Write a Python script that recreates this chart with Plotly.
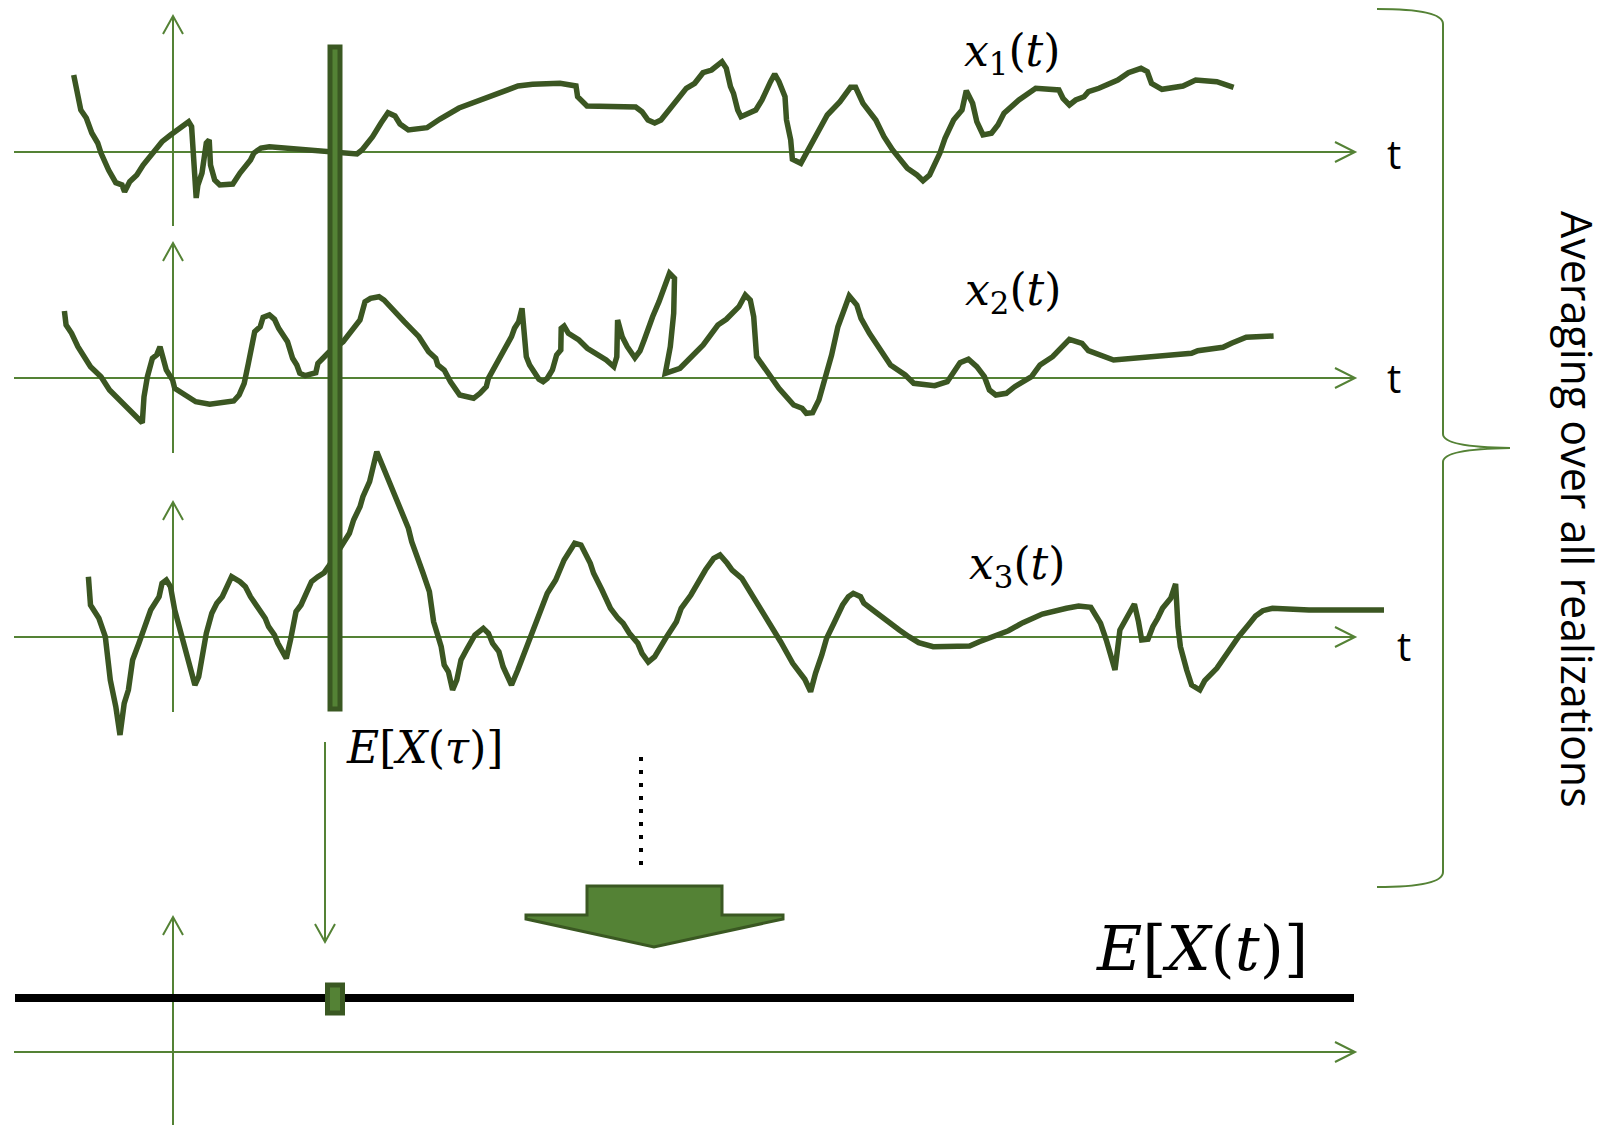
import plotly.graph_objects as go

W, H = 1612, 1125

# ---------------- data: three realizations (t in px-time units, amplitude above zero level) ----------------
t1 = [73.7, 77.9, 80.8, 86.3, 91.8, 97.7, 101, 108.6, 115.8, 122, 124.6, 129.7, 136.8, 143.1, 153.7, 162, 170.5,
      188.6, 191.6, 193.7, 196.2, 197.9, 202, 206.3, 209.2, 210.5, 214.7, 219.8, 232.8, 240, 250.5, 253.9, 261,
      269.4, 328, 357, 362, 372.6, 381, 388, 395, 400, 408.4, 427, 440, 459, 518, 532.6, 560, 576, 577.6, 587,
      635.7, 642, 648, 654.7, 661, 677.9, 686.3, 694.7, 703, 711.6, 722, 726.3, 730.5, 733.5, 737.7, 741, 755.8,
      762, 766.3, 770.5, 774.7, 779, 785, 786.5, 790.7, 792.4, 800.8, 808.4, 816, 821, 827.3, 840, 850.5, 855.6,
      863, 875.8, 884, 892.6, 901, 907.3, 917, 923, 929.6, 939.8, 945, 953.6, 962, 966.3, 972.6, 976.8, 983,
      991.5, 997.9, 1004, 1018.9, 1035.7, 1058.9, 1063, 1069.4, 1075.7, 1084, 1088.4, 1098.9, 1117.8, 1128.4,
      1141, 1147.3, 1151.5, 1162, 1183, 1195.7, 1216.8, 1233.6]
x1 = [77, 55.3, 42, 34, 19, 9, -1, -18, -30.7, -33, -39.7, -29.7, -23, -13, -1, 10.3, 17,
      30.3, 25.3, -21, -46, -33, -21, 9, 12, -13, -28, -33, -32, -21, -8, -1, 4,
      5.3, 0.3, -2, 2, 15.3, 29, 39.3, 36, 28, 22, 24.3, 33, 44, 66, 67.7, 68.7, 66, 55.3, 46,
      45, 40.3, 32, 29, 32, 52, 63.7, 68.7, 79.3, 82, 90.3, 83.7, 65.3, 58.7, 42, 35.3, 42,
      52, 62, 70.3, 78, 70.3, 55.3, 32, 12, -7.3, -11.3, 2, 15.3, 25.3, 37, 50.3, 64.7, 64.7,
      48.7, 32, 15.3, 2, -9.7, -16.3, -23, -28.7, -23, -1.3, 13.7, 32, 42, 61.3, 48.7, 30.3, 17,
      18.7, 27, 38.7, 52, 63.7, 62, 53.7, 47, 52, 55.3, 60.3, 63.7, 72, 79.3,
      83.7, 80.3, 68.7, 62.7, 66, 72, 70.3, 64.7]

t2 = [64.4, 66.1, 71.6, 77.9, 90.5, 101, 109.5, 134.7, 142.3, 144, 147.4, 152.4, 156.6, 160, 166.3, 172.6, 174.7,
      185.2, 195.8, 209.7, 233.7, 239.1, 244.2, 248.4, 254.7, 260.2, 263.1, 269.4, 274.5, 278.7, 287.5, 292.6,
      296.8, 299.8, 305.2, 315.8, 317.9, 328.4, 343.1, 360, 365, 370.5, 379, 384, 389.4, 397.8, 404.2, 418.9,
      428.6, 435.7, 437.8, 444.2, 450.5, 459.7, 473.6, 480, 486.3, 488.4, 496.8, 505.2, 511.5, 514.5, 518.7, 522,
      524.2, 526.3, 529.6, 536.8, 538.9, 543.1, 547.3, 552.4, 556.6, 560.8, 561.2, 564.1, 568.4, 578.9, 587.3,
      606.2, 613.8, 616.8, 617.6, 622.2, 627.3, 634.9, 640, 644.2, 648.4, 652.6, 659, 663.2, 669.5, 674.5, 673.7,
      670.3, 665.3, 680, 686.3, 703.2, 717.9, 726.3, 738.9, 745.3, 750.3, 753.7, 756.6, 762.1, 768.4, 778.9,
      793.7, 802.1, 806.3, 812.6, 818.9, 825.2, 831.6, 837.9, 849.2, 856.8, 861, 869.4, 882, 890.5, 905.2, 913.7,
      934.7, 947.3, 960, 968.4, 976.8, 984.4, 989.4, 995.8, 1006.3, 1014.7, 1031.5, 1040, 1052.6, 1069.4, 1082,
      1088.4, 1113.6, 1191.5, 1197.8, 1223, 1231.5, 1246.2, 1273.6]
x2 = [67, 53, 44.7, 31.3, 11.3, 1.3, -12, -37, -44.7, -18.7, 1.3, 19.7, 23, 31.3, 8, -2, -10.3,
      -17, -23.7, -26.3, -23, -17, -5.3, 14.7, 46.3, 51.3, 60.7, 63, 58.7, 49.7, 36.3, 19.7,
      13, 4.7, 2.3, 5.3, 14.7, 25.3, 36.3, 58, 76.3, 79.7, 81.3, 78, 72, 63, 56.3, 41.3,
      26.3, 19.7, 13, 8, -3.7, -17, -20.3, -15.3, -8.7, -0.3, 14.7, 28, 41.3, 49.7, 56.3, 69.7,
      44.7, 21.3, 13, 3, -1.3, -3.7, -0.3, 8, 23, 28, 49.7, 52, 44.7, 38, 29.7,
      18, 11.3, 21.3, 58, 41.3, 31.3, 20.3, 27, 38, 51.3, 61.3, 76.3, 88, 104.7, 99.7, 64.7,
      31.3, 4.7, 9.7, 16.3, 33, 53, 58.7, 71.3, 83, 78, 61.3, 21.3, 13, 4.7, -10.3,
      -27, -30.3, -35.3, -34.7, -22, -0.3, 23, 51.3, 82, 73, 59.7, 44.7, 24.7, 13, 3, -5.3,
      -7.7, -3.7, 15.3, 18.7, 11.3, 1.3, -12, -17, -15.3, -8.7, 1.3, 13, 21.3, 38.7, 34.7,
      27.3, 18, 24.7, 27.3, 30.7, 34.7, 40.7, 42]

t3 = [88.4, 90.5, 98.9, 105.3, 110.3, 115.8, 120, 124.2, 128.4, 132.6, 138.9, 145.2, 150.7, 159.1, 162, 166.3,
      170.5, 174.7, 178.9, 183.1, 187.3, 191.6, 194.9, 198.7, 202, 206.3, 211.8, 216.8, 222.3, 231.6, 240, 245.4,
      250.5, 258.9, 265.2, 268.6, 274.5, 277.9, 286.3, 290.5, 296, 301, 306.5, 311.5, 317.9, 324.2, 328.4, 343.1,
      349.4, 353.6, 360, 362.9, 369.6, 376.8, 383.1, 387.3, 393.6, 402, 408.4, 411.7, 418.9, 423.1, 429.4, 433.6,
      441.2, 444.2, 448.4, 452.6, 456.8, 461, 467.3, 474.9, 483.3, 488.4, 492.6, 498.9, 503.1, 511.5, 517.8,
      522.9, 528.4, 534.7, 541, 547.3, 555.7, 564.1, 574.7, 581, 590.3, 593.6, 602, 610.5, 618, 623.1, 629.4,
      637.8, 642, 648.3, 654.7, 659.4, 666.7, 676.4, 681.2, 690.9, 698.2, 705.4, 713.7, 720, 727.2, 732.1, 741.8,
      749.1, 756.3, 768.4, 780.6, 792.7, 804.8, 810.6, 815.5, 821.8, 826.6, 833.9, 842.6, 848.4, 853.3, 860.5,
      863.9, 875.1, 889.6, 899.3, 909, 918.7, 933.2, 969.6, 979.3, 998.7, 1008.4, 1022.9, 1042.3, 1066.5, 1078.6,
      1090.8, 1100.5, 1106.3, 1112.6, 1115, 1119.9, 1124.7, 1130.5, 1134.4, 1138.5, 1141.7, 1148, 1152.8, 1157.7,
      1162.5, 1170.7, 1175.6, 1178, 1180.4, 1186.7, 1191.6, 1199.8, 1204.7, 1216.8, 1226.5, 1238.6, 1248.3,
      1255.5, 1262.8, 1272.5, 1308.9, 1384]
x3 = [60.3, 32, 18.7, 0.3, -43, -69.7, -98, -66.3, -53, -23, -6.3, 12, 27, 40.3, 53.7, 57,
      50.3, 27, 10.3, -1.3, -23, -36.3, -48, -39.7, -19.7, 3.7, 23.7, 33.7, 40.3, 60.3, 55.3, 50.3,
      40.3, 28.7, 18.7, 10.3, 2, -6.3, -21.3, -3, 25.3, 32, 43.7, 55.3, 60.3, 64.3, 70.3, 93.7,
      103.7, 117, 130.3, 140.3, 155.3, 185.3, 170.3, 157, 142, 123.7, 108.7, 95.3, 77, 63.7, 45.3, 15.3,
      -9.7, -28, -34.7, -53, -43, -23, -11.3, 2, 8.7, 3.7, -6.3, -14.7, -29.7, -48, -33,
      -19.7, -3, 12, 28.7, 43.7, 57, 77, 93.7, 92, 73.7, 63.7, 47, 28.7, 18.7, 13.7, 3.7,
      -6.3, -16.3, -25, -19.7, -11.3, 0.3, 15.3, 28.7, 42, 55.3, 67, 78.7, 82, 73.7, 67, 58.7,
      47, 35.3, 15.3, -4.7, -26.3, -42.3, -54.7, -36.3, -18, -1.3, 13.7, 32, 40.3, 43.7, 40.3,
      33.7, 25.3, 13.7, 7, 0.3, -5.7, -9.7, -9, -4.7, 2, 6.3, 14.3, 23, 28.7, 31,
      29.7, 13.7, -3, -26.3, -33, 7, 15.3, 27, 33, 15.3, -3, -2.3, 10.3, 18.7,
      28.7, 38.7, 53, 10.3, -9.7, -33, -48, -53, -43.7, -31.3, -16.3, 0.3, 12,
      21, 26.3, 28.7, 27, 27]

realization_labels = ["<i>x</i><sub>1</sub>(<i>t</i>)", "<i>x</i><sub>2</sub>(<i>t</i>)",
                      "<i>x</i><sub>3</sub>(<i>t</i>)"]
tau = 335            # sampling instant τ
mean_level = 0       # E[X(t)] (constant)

# ---------------- layout constants ----------------
zero_px = [152, 378, 637]           # pixel row of each realization's t-axis
label_pos = [(1012, 53), (1013, 292), (1017, 566)]
t_label_pos = [(1394, 153), (1394, 377), (1404, 645)]
vaxis = [(16, 226), (243, 453), (502, 712)]
AX_X0, AX_X1, VX = 14, 1355, 173
BOTTOM_AXIS_Y, MEAN_Y = 1052, 998

CURVE = "#3b5622"
AXIS = "#548235"
DARK = "#3a5822"
SERIF = "DejaVu Serif"
SANS = "Open Sans"

fig = go.Figure()
shapes, annos = [], []

def line(x0, y0, x1_, y1_, color=AXIS, width=2, layer="below", dash=None):
    d = dict(type="line", xref="x", yref="y", x0=x0, y0=y0, x1=x1_, y1=y1_,
             line=dict(color=color, width=width), layer=layer)
    if dash:
        d["line"]["dash"] = dash
    shapes.append(d)

def path(p, color=AXIS, width=2, fill=None, layer="below"):
    d = dict(type="path", xref="x", yref="y", path=p, line=dict(color=color, width=width), layer=layer)
    if fill:
        d["fillcolor"] = fill
    shapes.append(d)

def h_axis(y):
    line(AX_X0, y, AX_X1, y)
    path(f"M {AX_X1-20},{y-10} L {AX_X1},{y} L {AX_X1-20},{y+10}")

def v_axis(x, y_top, y_bot):
    line(x, y_top, x, y_bot)
    path(f"M {x-10},{y_top+18} L {x},{y_top} L {x+10},{y_top+18}")

# realization axes
for zp, (yt, yb) in zip(zero_px, vaxis):
    h_axis(zp)
    v_axis(VX, yt, yb)

# realization curves, each on its own overlaying y axis whose zero sits on its t-axis
for i, (t, v, zp) in enumerate(zip([t1, t2, t3], [x1, x2, x3], zero_px)):
    ax = f"y{i+2}"
    fig.add_trace(go.Scatter(x=t, y=v, mode="lines", yaxis=ax, hoverinfo="skip", showlegend=False,
                             line=dict(color=CURVE, width=5.5)))
    fig.layout[f"yaxis{i+2}"] = dict(range=[zp - H, zp], overlaying="y", visible=False, fixedrange=True)

# mean function E[X(t)] on the bottom plot
fig.add_trace(go.Scatter(x=[AX_X0 + 1, AX_X1 - 1], y=[mean_level, mean_level], mode="lines", yaxis="y5",
                         hoverinfo="skip", showlegend=False, line=dict(color="black", width=8)))
fig.layout["yaxis5"] = dict(range=[MEAN_Y - H, MEAN_Y], overlaying="y", visible=False, fixedrange=True)

# bottom axes
h_axis(BOTTOM_AXIS_Y)
v_axis(VX, 917, 1130)

# thick sampling bar at t = tau
shapes.append(dict(type="rect", xref="x", yref="y", x0=tau - 5, x1=tau + 5, y0=47, y1=709,
                   fillcolor=AXIS, line=dict(color=DARK, width=5), layer="above"))
# small marker on mean line
shapes.append(dict(type="rect", xref="x", yref="y", x0=tau - 7.5, x1=tau + 7.5, y0=985, y1=1013,
                   fillcolor=AXIS, line=dict(color=DARK, width=5), layer="above"))

# thin arrow from bar down to mean line
line(325, 742, 325, 942)
path("M 315,924 L 325,942 L 335,924")

# dotted line
line(641, 757, 641, 865, color="black", width=4, dash="4px,9px")

# block arrow
path("M 587,886 L 722,886 L 722,915 L 783,915 L 783,919 L 654,947 L 526,919 L 526,915 L 587,915 Z",
     color=DARK, width=3, fill=AXIS, layer="above")

# curly brace
path("M 1377,9 Q 1443,9 1443,24 L 1443,434 Q 1443,447 1510,448 Q 1443,449 1443,462 L 1443,872 "
     "Q 1443,887 1377,887", width=2)

# text
for lab, (lx, ly) in zip(realization_labels, label_pos):
    annos.append(dict(x=lx, y=ly, text=lab, showarrow=False, xanchor="center", yanchor="middle",
                      font=dict(family=SERIF, size=44, color="black")))
for (lx, ly) in t_label_pos:
    annos.append(dict(x=lx, y=ly, text="t", showarrow=False, xanchor="center", yanchor="middle",
                      font=dict(family=SANS, size=40, color="black")))
annos.append(dict(x=424, y=747, text="<i>E</i>[<i>X</i>(<i>τ</i>)]", showarrow=False,
                  xanchor="center", yanchor="middle", font=dict(family=SERIF, size=44, color="black")))
annos.append(dict(x=1202, y=948, text="<i>E</i>[<i>X</i>(<i>t</i>)]", showarrow=False,
                  xanchor="center", yanchor="middle", font=dict(family=SERIF, size=62, color="black")))
annos.append(dict(x=1578, y=509, text="Averaging over all realizations", showarrow=False, textangle=90,
                  xanchor="center", yanchor="middle", font=dict(family=SANS, size=43, color="black")))

for a in annos:
    a["xref"] = "x"
    a["yref"] = "y"

fig.update_layout(
    width=W, height=H, margin=dict(l=0, r=0, t=0, b=0),
    paper_bgcolor="white", plot_bgcolor="white",
    xaxis=dict(range=[0, W], visible=False, fixedrange=True),
    yaxis=dict(range=[H, 0], visible=False, fixedrange=True),
    shapes=shapes, annotations=annos, showlegend=False,
)

fig.write_html("out.html", config={"displayModeBar": False, "staticPlot": True},
               post_script="document.body.style.margin='0';document.body.style.overflow='hidden';")
